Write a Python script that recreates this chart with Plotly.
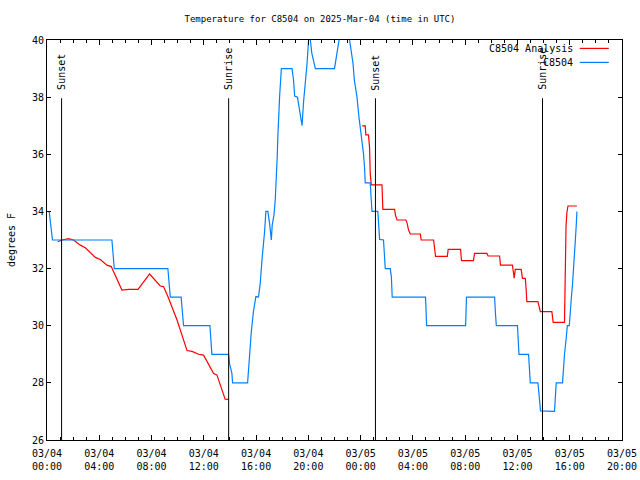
import plotly.graph_objects as go

# ---- data ----
obs_times = [
    "2025-03-04 00:10", "2025-03-04 00:17", "2025-03-04 00:25", "2025-03-04 04:58", "2025-03-04 05:03",
    "2025-03-04 05:09", "2025-03-04 09:15", "2025-03-04 09:20", "2025-03-04 09:26", "2025-03-04 10:16",
    "2025-03-04 10:27", "2025-03-04 12:28", "2025-03-04 12:37", "2025-03-04 13:54", "2025-03-04 13:58",
    "2025-03-04 14:09", "2025-03-04 14:12", "2025-03-04 15:21", "2025-03-04 15:29", "2025-03-04 15:38",
    "2025-03-04 15:48", "2025-03-04 15:59", "2025-03-04 16:11", "2025-03-04 16:19", "2025-03-04 16:27",
    "2025-03-04 16:34", "2025-03-04 16:39", "2025-03-04 16:45", "2025-03-04 16:54", "2025-03-04 17:02",
    "2025-03-04 17:10", "2025-03-04 17:14", "2025-03-04 17:22", "2025-03-04 17:28", "2025-03-04 17:33",
    "2025-03-04 17:37", "2025-03-04 17:40", "2025-03-04 17:43", "2025-03-04 17:48", "2025-03-04 17:56",
    "2025-03-04 18:45", "2025-03-04 18:52", "2025-03-04 18:57", "2025-03-04 19:10", "2025-03-04 19:18",
    "2025-03-04 19:26", "2025-03-04 19:31", "2025-03-04 19:38", "2025-03-04 19:46", "2025-03-04 19:54",
    "2025-03-04 20:01", "2025-03-04 20:06", "2025-03-04 20:16", "2025-03-04 20:24", "2025-03-04 20:32",
    "2025-03-04 22:00", "2025-03-04 22:11", "2025-03-04 22:25", "2025-03-04 22:45", "2025-03-04 23:05",
    "2025-03-04 23:16", "2025-03-04 23:25", "2025-03-04 23:31", "2025-03-04 23:43", "2025-03-04 23:52",
    "2025-03-04 23:58", "2025-03-05 00:06", "2025-03-05 00:13", "2025-03-05 00:18", "2025-03-05 00:21",
    "2025-03-05 00:44", "2025-03-05 00:49", "2025-03-05 00:52", "2025-03-05 01:19", "2025-03-05 01:22",
    "2025-03-05 01:27", "2025-03-05 01:45", "2025-03-05 01:50", "2025-03-05 01:53", "2025-03-05 02:16",
    "2025-03-05 02:21", "2025-03-05 02:25", "2025-03-05 04:58", "2025-03-05 05:03", "2025-03-05 08:02",
    "2025-03-05 08:06", "2025-03-05 10:15", "2025-03-05 10:19", "2025-03-05 10:23", "2025-03-05 12:00",
    "2025-03-05 12:05", "2025-03-05 12:07", "2025-03-05 12:51", "2025-03-05 12:55", "2025-03-05 12:59",
    "2025-03-05 13:34", "2025-03-05 13:40", "2025-03-05 13:46", "2025-03-05 14:50", "2025-03-05 14:53",
    "2025-03-05 14:58", "2025-03-05 15:27", "2025-03-05 15:32", "2025-03-05 15:36", "2025-03-05 15:43",
    "2025-03-05 15:49", "2025-03-05 15:58", "2025-03-05 16:02", "2025-03-05 16:08", "2025-03-05 16:13",
    "2025-03-05 16:18", "2025-03-05 16:24", "2025-03-05 16:30", "2025-03-05 16:33",
]
obs_temps = [
    34.0, 33.5, 33.0, 33.0, 32.5,
    32.0, 32.0, 31.5, 31.0, 31.0,
    30.0, 30.0, 29.0, 29.0, 28.68,
    28.33, 28.0, 28.0, 29.03, 29.79,
    30.51, 31.02, 31.0, 31.48, 32.3,
    32.77, 33.29, 34.0, 34.0, 33.58,
    33.0, 33.52, 33.87, 34.4, 35.1,
    35.92, 36.62, 37.32, 38.02, 39.0,
    39.0, 38.6, 38.04, 38.0, 37.67,
    37.2, 37.0, 37.84, 38.48, 39.18,
    40.0, 40.2, 39.53, 39.2, 39.0,
    39.0, 39.5, 40.2, 40.5, 40.2,
    39.65, 39.18, 38.6, 38.02, 37.32,
    37.0, 36.5, 36.03, 35.54, 35.0,
    35.0, 34.5, 34.0, 34.0, 33.58,
    33.02, 33.0, 32.53, 32.0, 32.0,
    31.72, 31.0, 31.0, 30.0, 30.0,
    31.0, 31.0, 30.43, 30.0, 30.0,
    29.5, 29.0, 29.0, 28.45, 28.0,
    28.0, 27.52, 27.02, 27.0, 27.52,
    28.0, 28.0, 28.68, 29.0, 29.5,
    30.0, 30.0, 30.55, 31.02, 31.48,
    32.26, 32.77, 33.52, 34.0,
]

ana_times = [
    "2025-03-04 00:49", "2025-03-04 01:09", "2025-03-04 01:39", "2025-03-04 02:02", "2025-03-04 02:33",
    "2025-03-04 02:56", "2025-03-04 03:42", "2025-03-04 04:05", "2025-03-04 04:35", "2025-03-04 04:55",
    "2025-03-04 05:44", "2025-03-04 06:15", "2025-03-04 06:58", "2025-03-04 07:51", "2025-03-04 08:40",
    "2025-03-04 08:55", "2025-03-04 09:15", "2025-03-04 09:49", "2025-03-04 09:57", "2025-03-04 10:43",
    "2025-03-04 11:06", "2025-03-04 11:36", "2025-03-04 11:59", "2025-03-04 12:45", "2025-03-04 13:00",
    "2025-03-04 13:38", "2025-03-04 13:54", "2025-03-04 19:00",
    "2025-03-05 00:06", "2025-03-05 00:21", "2025-03-05 00:24", "2025-03-05 00:36", "2025-03-05 00:41",
    "2025-03-05 00:44", "2025-03-05 00:49", "2025-03-05 01:38", "2025-03-05 01:42", "2025-03-05 02:36",
    "2025-03-05 02:40", "2025-03-05 02:47", "2025-03-05 03:28", "2025-03-05 03:33", "2025-03-05 03:40",
    "2025-03-05 03:48", "2025-03-05 04:34", "2025-03-05 04:38", "2025-03-05 05:35", "2025-03-05 05:39",
    "2025-03-05 05:44", "2025-03-05 06:38", "2025-03-05 06:42", "2025-03-05 07:39", "2025-03-05 07:43",
    "2025-03-05 08:38", "2025-03-05 08:43", "2025-03-05 09:40", "2025-03-05 09:45", "2025-03-05 10:38",
    "2025-03-05 10:42", "2025-03-05 11:37", "2025-03-05 11:42", "2025-03-05 11:45", "2025-03-05 11:50",
    "2025-03-05 12:17", "2025-03-05 12:23", "2025-03-05 12:36", "2025-03-05 12:40", "2025-03-05 12:43",
    "2025-03-05 13:34", "2025-03-05 13:40", "2025-03-05 13:45", "2025-03-05 14:38", "2025-03-05 14:41",
    "2025-03-05 14:44", "2025-03-05 15:36", "2025-03-05 15:39", "2025-03-05 15:43", "2025-03-05 15:47",
    "2025-03-05 15:52", "2025-03-05 16:33",
]
ana_temps = [
    32.94, 33.0, 33.05, 33.0, 32.82,
    32.73, 32.39, 32.32, 32.12, 32.07,
    31.25, 31.27, 31.27, 31.81, 31.39,
    31.37, 31.02, 30.3, 30.2, 29.13,
    29.1, 29.0, 28.97, 28.33, 28.28,
    27.43, 27.42, None,
    36.99, 37.0, 36.68, 36.68, 36.24,
    35.33, 34.93, 34.93, 34.07, 34.07,
    33.87, 33.7, 33.7, 33.6, 33.35,
    33.21, 33.21, 33.0, 33.0, 32.65,
    32.43, 32.43, 32.67, 32.67, 32.28,
    32.28, 32.53, 32.53, 32.44, 32.44,
    32.12, 32.12, 31.89, 31.66, 31.97,
    31.97, 31.66, 31.66, 31.27, 30.84,
    30.84, 30.69, 30.49, 30.49, 30.26,
    30.12, 30.12, 31.66, 33.47, 33.96,
    34.19, 34.19,
]

sun_times = ["2025-03-04 01:07", "2025-03-04 13:54", "2025-03-05 01:08", "2025-03-05 13:55"]
sun_labels = ["Sunset", "Sunrise", "Sunset", "Sunrise"]

series_names = ["C8504 Analysis", "C8504"]
series_colors = ["#ff0000", "#0080ff"]

FONT = "DejaVu Sans Mono"
FS = 9

fig = go.Figure()
fig.add_trace(go.Scatter(x=ana_times, y=ana_temps, mode="lines", name=series_names[0],
                         line=dict(color=series_colors[0], width=1.2), connectgaps=False))
fig.add_trace(go.Scatter(x=obs_times, y=obs_temps, mode="lines", name=series_names[1],
                         line=dict(color=series_colors[1], width=1.2)))

for t, lab in zip(sun_times, sun_labels):
    fig.add_shape(type="line", xref="x", yref="y", x0=t, x1=t, y0=26, y1=37.96,
                  line=dict(color="black", width=1))
    fig.add_annotation(x=t, y=38.17, xref="x", yref="y", text=lab, textangle=-90,
                       showarrow=False, xanchor="center", yanchor="bottom",
                       font=dict(family=FONT, size=FS + 1, color="black"))

# gnuplot-style key (text then line sample)
key_y = [0.979, 0.944]
for name, col, ky in zip(series_names, series_colors, key_y):
    fig.add_annotation(x=0.918, y=ky, xref="paper", yref="paper", text=name, showarrow=False,
                       xanchor="right", yanchor="middle", font=dict(family=FONT, size=FS + 1, color="black"))
    fig.add_shape(type="line", xref="paper", yref="paper", x0=0.9265, x1=0.977, y0=ky, y1=ky,
                  line=dict(color=col, width=1.2))

fig.update_layout(
    width=640, height=480,
    margin=dict(l=47, r=18, t=40, b=40, autoexpand=False),
    paper_bgcolor="white", plot_bgcolor="white",
    showlegend=False,
    font=dict(family=FONT, size=FS, color="black"),
    title=dict(text="Temperature for C8504 on 2025-Mar-04 (time in UTC)", x=0.5, xanchor="center",
               y=1 - 19 / 480, yanchor="middle", font=dict(family=FONT, size=FS, color="black")),
)
fig.update_xaxes(
    type="date", range=["2025-03-04 00:00", "2025-03-05 20:00"], automargin=False,
    dtick=4 * 3600 * 1000, tick0="2025-03-04 00:00", tickformat="%m/%d<br>%H:%M",
    ticks="inside", ticklen=5, tickcolor="black", showgrid=False, zeroline=False,
    showline=True, linecolor="black", linewidth=1, mirror="ticks",
    minor=dict(dtick=3600 * 1000, ticks="inside", ticklen=3, tickcolor="black", showgrid=False),
    tickfont=dict(family=FONT, size=FS + 1), ticklabelstandoff=4,
)
fig.update_yaxes(
    range=[26, 40], dtick=2, tick0=26, automargin=False,
    ticks="inside", ticklen=4, tickcolor="black", showgrid=False, zeroline=False,
    showline=True, linecolor="black", linewidth=1, mirror="ticks",
    title=dict(text="degrees F", font=dict(family=FONT, size=FS + 1), standoff=14),
    tickfont=dict(family=FONT, size=FS + 1),
)

fig.write_html("out.html")
